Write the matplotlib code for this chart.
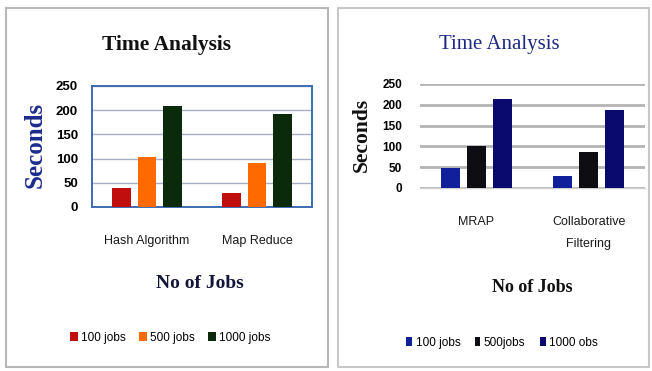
import matplotlib
matplotlib.use("Agg")
import matplotlib.pyplot as plt
from matplotlib.patches import Rectangle, Patch
import numpy as np

# Data
series_labels = ["100 jobs", "500 jobs", "1000 jobs"]
series_labels_right = ["100 jobs", "500jobs", "1000 obs"]

left_categories = ["Hash Algorithm", "Map Reduce"]
left_100 = [39, 29]
left_500 = [103, 90]
left_1000 = [209, 193]

right_categories = ["MRAP", "Collaborative\nFiltering"]
right_100 = [49, 29]
right_500 = [101, 87]
right_1000 = [214, 188]

yticks = [0, 50, 100, 150, 200, 250]

left_colors = ["#c00d0d", "#ff6a00", "#0b2a0c"]
right_colors = ["#10209a", "#0e0e12", "#0a0a6e"]

W, H = 652, 371
fig = plt.figure(figsize=(W / 100, H / 100), dpi=100)
fig.patch.set_facecolor("white")

SANS = ["Liberation Sans Narrow", "Liberation Sans", "DejaVu Sans"]
SERIF = ["Liberation Serif", "DejaVu Serif"]


def fx(px):
    return px / W


def fy(py):
    return 1 - py / H


# panel frames
fig.add_artist(Rectangle((fx(6), fy(367)), fx(322), (367 - 8) / H,
                         transform=fig.transFigure, fill=False,
                         edgecolor="#b8b8b8", linewidth=1.5))
fig.add_artist(Rectangle((fx(338), fy(367)), fx(311), (367 - 8) / H,
                         transform=fig.transFigure, fill=False,
                         edgecolor="#c8c8c8", linewidth=1.5))

width = 0.17
offsets = [-0.23, 0.0, 0.23]

# ---------- left chart ----------
axL = fig.add_axes([fx(92), fy(207), fx(312 - 92), (207 - 86) / H])
x = np.arange(len(left_categories))
for vals, off, col in zip([left_100, left_500, left_1000], offsets, left_colors):
    axL.bar(x + off, vals, width, color=col, zorder=3)
axL.set_xlim(-0.5, 1.5)
axL.set_ylim(0, 250)
axL.set_yticks(yticks)
axL.set_yticklabels([str(t) for t in yticks], fontfamily=SANS,
                    fontweight="bold", fontsize=9.5)
axL.set_xticks(x)
axL.set_xticklabels(left_categories, fontfamily=SANS, fontsize=9,
                    color="#1a1a1a")
axL.tick_params(axis="y", length=0, pad=10)
axL.tick_params(axis="x", length=0, pad=20)
axL.yaxis.grid(True, color="#a9aec4", linewidth=1.0, zorder=0)
for s in axL.spines.values():
    s.set_color("#3d6db3")
    s.set_linewidth(1.4)

fig.text(fx(167), fy(45), "Time Analysis", ha="center", va="center",
         fontfamily=SERIF, fontweight="bold", fontsize=15.5, color="#111111")
fig.text(fx(35), fy(145), "Seconds", ha="center", va="center", rotation=90,
         fontfamily=SERIF, fontweight="bold", fontsize=18, color="#1c2c8c")
fig.text(fx(200), fy(283), "No of Jobs", ha="center", va="center",
         fontfamily=SERIF, fontweight="bold", fontsize=14, color="#14143a")

handlesL = [Patch(facecolor=c, edgecolor="none") for c in left_colors]
fig.legend(handlesL, series_labels, loc="center",
           bbox_to_anchor=(fx(170), fy(338)), ncol=3, frameon=False,
           handlelength=0.7, handleheight=0.8, handletextpad=0.25,
           columnspacing=1.1, prop={"family": SANS, "size": 8.5})

# ---------- right chart ----------
axR = fig.add_axes([fx(420), fy(188), fx(645 - 420), (188 - 84) / H])
x = np.arange(len(right_categories))
for vals, off, col in zip([right_100, right_500, right_1000], offsets, right_colors):
    axR.bar(x + off, vals, width, color=col, zorder=3)
axR.set_xlim(-0.5, 1.5)
axR.set_ylim(0, 250)
axR.set_yticks(yticks)
axR.set_yticklabels([str(t) for t in yticks], fontfamily=SANS,
                    fontweight="bold", fontsize=8.5)
axR.set_xticks(x)
axR.set_xticklabels(right_categories, fontfamily=SANS, fontsize=9,
                    linespacing=2.15, va="top", color="#1a1a1a")
axR.tick_params(axis="y", length=0, pad=13)
axR.tick_params(axis="x", length=0, pad=20)
axR.yaxis.grid(True, color="#b4b4b4", linewidth=2.0, zorder=0)
axR.set_axisbelow(True)
for name, s in axR.spines.items():
    if name == "bottom":
        s.set_color("#d0d0d0")
        s.set_linewidth(1.0)
    else:
        s.set_visible(False)

fig.text(fx(499), fy(45), "Time Analysis", ha="center", va="center",
         fontfamily=SERIF, fontsize=15, color="#1c2a82")
fig.text(fx(362), fy(135), "Seconds", ha="center", va="center", rotation=90,
         fontfamily=SERIF, fontweight="bold", fontsize=15.5, color="#111111")
fig.text(fx(532), fy(287), "No of Jobs", ha="center", va="center",
         fontfamily=SERIF, fontweight="bold", fontsize=13, color="#111111")

handlesR = [Patch(facecolor=c, edgecolor="none") for c in right_colors]
fig.legend(handlesR, series_labels_right, loc="center",
           bbox_to_anchor=(fx(502), fy(343)), ncol=3, frameon=False,
           handlelength=0.5, handleheight=0.8, handletextpad=0.3,
           columnspacing=1.2, prop={"family": SANS, "size": 8.5})

fig.savefig("out.png", dpi=100, facecolor="white")
